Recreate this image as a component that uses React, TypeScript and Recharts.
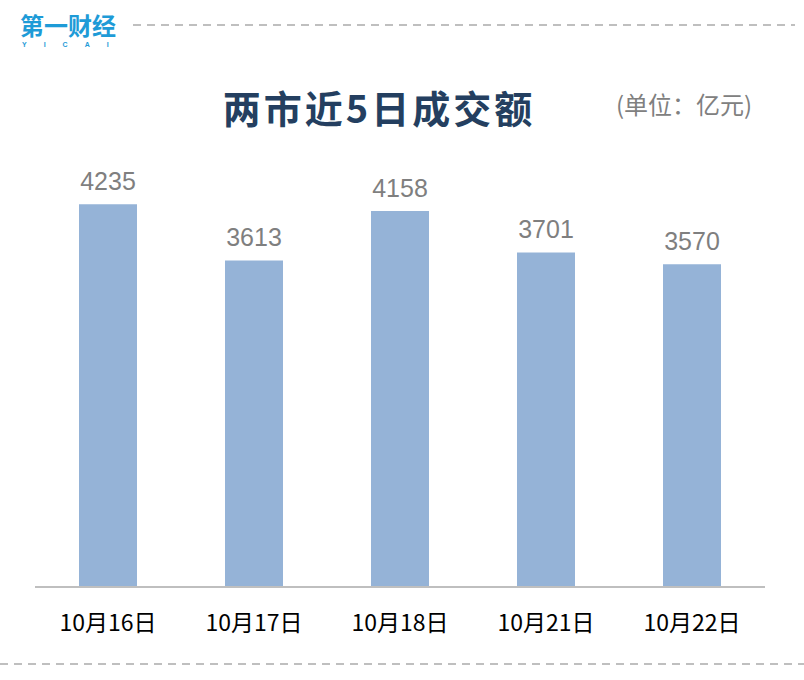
import React from "react";
import { Bar, BarChart, LabelList, XAxis, YAxis } from "recharts";

const dates = ["10月16日", "10月17日", "10月18日", "10月21日", "10月22日"];
const turnover = [4235, 3613, 4158, 3701, 3570];

const rows = dates.map((date, i) => ({ date, value: turnover[i] }));

export default function App() {
  return (
    <div style={{ position: "absolute", left: 0, top: 0, width: 804, height: 680, background: "#fff" }}>
      <BarChart
        width={804}
        height={680}
        data={rows}
        margin={{ top: 135, right: 39, bottom: 53, left: 35 }}
      >
        <XAxis
          dataKey="date"
          height={40}
          axisLine={{ stroke: "#bfbfbf", strokeWidth: 2 }}
          tickLine={false}
          tickMargin={22}
          tick={{ fill: "#000", fontSize: 23, fontFamily: "Noto Sans CJK SC" }}
        />
        <YAxis hide width={0} domain={[0, 5000]} />
        <Bar dataKey="value" fill="#95b3d7" barSize={58} isAnimationActive={false}>
          <LabelList
            dataKey="value"
            position="top"
            offset={14}
            fill="#7f7f7f"
            fontSize={25}
            fontFamily="Liberation Sans, Arial, sans-serif"
          />
        </Bar>
      </BarChart>
      <svg
        width={804}
        height={680}
        style={{ position: "absolute", left: 0, top: 0, pointerEvents: "none" }}
      >
        {/* logo */}
        <text x={20} y={35} fill="#1e9bd7" fontSize={24} fontWeight="bold" fontFamily="Noto Sans CJK SC">
          第一财经
        </text>
        <text x={22} y={47} fill="#1e9bd7" fontSize={7} fontWeight="bold" fontFamily="Liberation Sans, Arial" letterSpacing={17}>
          YICAI
        </text>
        <line x1={133} y1={25} x2={795} y2={25} stroke="#bfbfbf" strokeWidth={2} strokeDasharray="8 6" />
        <line x1={0} y1={664} x2={804} y2={664} stroke="#bfbfbf" strokeWidth={2} strokeDasharray="8 6" />
        {/* title */}
        <text x={379} y={123} textAnchor="middle" fill="#243f60" fontSize={38} fontWeight="bold" fontFamily="Noto Sans CJK SC" letterSpacing={3}>
          两市近5日成交额
        </text>
        <text x={684} y={114} textAnchor="middle" fill="#808080" fontSize={24} fontFamily="Noto Sans CJK SC">
          (单位：亿元)
        </text>
      </svg>
    </div>
  );
}
